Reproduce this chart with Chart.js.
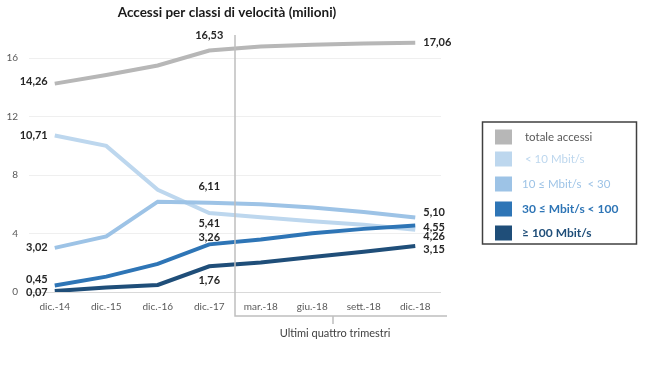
<!DOCTYPE html>
<html>
<head>
<meta charset="utf-8">
<script src="https://cdn.jsdelivr.net/npm/chart.js@4.4.0/dist/chart.umd.min.js"></script>
<style>
  html, body { margin: 0; padding: 0; background: #fff; }
</style>
</head>
<body>
<canvas id="chartVelocita" width="650" height="366"></canvas>
<script>
// Dati (milioni di accessi)
const categorie = ['dic.-14', 'dic.-15', 'dic.-16', 'dic.-17', 'mar.-18', 'giu.-18', 'sett.-18', 'dic.-18'];
const totaleAccessi = [14.26, 14.85, 15.5, 16.53, 16.8, 16.92, 17.0, 17.06];
const meno10 = [10.71, 10.0, 7.0, 5.41, 5.12, 4.85, 4.6, 4.26];
const da10a30 = [3.02, 3.8, 6.18, 6.11, 6.0, 5.78, 5.48, 5.10];
const da30a100 = [0.45, 1.05, 1.92, 3.26, 3.6, 4.02, 4.32, 4.55];
const oltre100 = [0.07, 0.3, 0.48, 1.76, 2.02, 2.4, 2.75, 3.15];
const tickY = [0, 4, 8, 12, 16];

const nomiSerie = ['totale accessi', '< 10 Mbit/s', '10 ≤ Mbit/s  < 30', '30 ≤ Mbit/s < 100', '≥ 100 Mbit/s'];
const coloriLinea = ['#b7b7b7', '#bdd7ee', '#9dc3e6', '#2e75b6', '#1f4e79'];
const coloriTestoLegenda = ['#595959', '#bdd7ee', '#9dc3e6', '#2e75b6', '#1f4e79'];
const serie = [totaleAccessi, meno10, da10a30, da30a100, oltre100];

// spostamento delle etichette rispetto al punto: [inizio, dic.-17, fine]
const offsetEtichette = [
    { sx: -2, cx: -15, dx: 0 },
    { sx: 0, cx: 10, dx: 7 },
    { sx: 0, cx: -16, dx: -5 },
    { sx: -6, cx: -7, dx: 2 },
    { sx: 1, cx: 14, dx: 3 }
];

const FONT = 'Lato, "Open Sans", "DejaVu Sans", sans-serif';
const fmt = v => v.toFixed(2).replace('.', ',');

const pluginExtra = {
    id: 'extra',
    afterDatasetsDraw(chart) {
        const ctx = chart.ctx;
        const x = chart.scales.x, y = chart.scales.y;
        const area = chart.chartArea;
        ctx.save();

        // titolo
        ctx.fillStyle = '#1a1a1a';
        ctx.font = 'bold 13.5px ' + FONT;
        ctx.textAlign = 'center';
        ctx.textBaseline = 'middle';
        ctx.fillText('Accessi per classi di velocità (milioni)', 227, 13);

        // separatore ultimi trimestri
        const sep = (x.getPixelForValue(3) + x.getPixelForValue(4)) / 2;
        const baseY = 316;
        ctx.strokeStyle = '#bfbfbf';
        ctx.lineWidth = 1.5;
        ctx.beginPath();
        ctx.moveTo(sep, area.top + 6);
        ctx.lineTo(sep, baseY);
        ctx.lineTo(area.right + 6, baseY);
        const mid = (sep + area.right) / 2 - 5;
        ctx.moveTo(mid, baseY);
        ctx.lineTo(mid, baseY + 8);
        ctx.stroke();
        ctx.fillStyle = '#404040';
        ctx.font = '11px ' + FONT;
        ctx.fillText('Ultimi quattro trimestri', mid + 2, 333);

        // etichette dei valori
        ctx.font = 'bold 11px ' + FONT;
        ctx.fillStyle = '#262626';
        serie.forEach((dati, s) => {
            const o = offsetEtichette[s];
            const last = dati.length - 1;
            ctx.textAlign = 'right';
            ctx.fillText(fmt(dati[0]), x.getPixelForValue(0) - 7, y.getPixelForValue(dati[0]) + o.sx);
            ctx.textAlign = 'center';
            ctx.fillText(fmt(dati[3]), x.getPixelForValue(3), y.getPixelForValue(dati[3]) + o.cx);
            ctx.textAlign = 'left';
            ctx.fillText(fmt(dati[last]), x.getPixelForValue(last) + 8, y.getPixelForValue(dati[last]) + o.dx);
        });

        // legenda
        ctx.strokeStyle = '#404040';
        ctx.lineWidth = 1.5;
        ctx.strokeRect(482.5, 122, 154, 122);
        const righe = [137, 159, 184, 209, 233];
        ctx.textAlign = 'left';
        nomiSerie.forEach((nome, i) => {
            ctx.fillStyle = coloriLinea[i];
            ctx.fillRect(495, righe[i] - 7.5, 17, 15);
            ctx.fillStyle = coloriTestoLegenda[i];
            ctx.font = (i >= 3 ? 'bold 12px ' : '11.5px ') + FONT;
            ctx.fillText(nome, i < 2 ? 525 : 522, righe[i]);
        });
        ctx.restore();
    }
};

const datasets = serie.map((dati, i) => ({
    label: nomiSerie[i],
    data: dati,
    borderColor: coloriLinea[i],
    backgroundColor: coloriLinea[i],
    borderWidth: 4,
    pointRadius: 0,
    tension: 0,
    order: 5 - i
}));

new Chart(document.getElementById('chartVelocita').getContext('2d'), {
    type: 'line',
    data: { labels: categorie, datasets: datasets },
    options: {
        responsive: false,
        animation: false,
        devicePixelRatio: 1,
        layout: { padding: { left: 0, top: 29, right: 209, bottom: 49 } },
        plugins: { legend: { display: false }, tooltip: { enabled: false } },
        scales: {
            x: {
                offset: true,
                grid: { display: false, drawTicks: false },
                border: { display: false },
                ticks: { color: '#595959', font: { size: 10, family: FONT }, padding: 9, maxRotation: 0, autoSkip: false },
                afterFit: s => { s.height = 25; }
            },
            y: {
                min: 0,
                max: 18,
                afterBuildTicks: s => { s.ticks = tickY.map(v => ({ value: v })); },
                grid: {
                    drawTicks: false,
                    color: c => c.tick.value === 0 ? '#d9d9d9' : '#efefef',
                    lineWidth: 1
                },
                border: { display: false },
                ticks: { color: '#595959', font: { size: 10, family: FONT }, padding: 11 },
                afterFit: s => { s.width = 29; }
            }
        }
    },
    plugins: [pluginExtra]
});
</script>
</body>
</html>
